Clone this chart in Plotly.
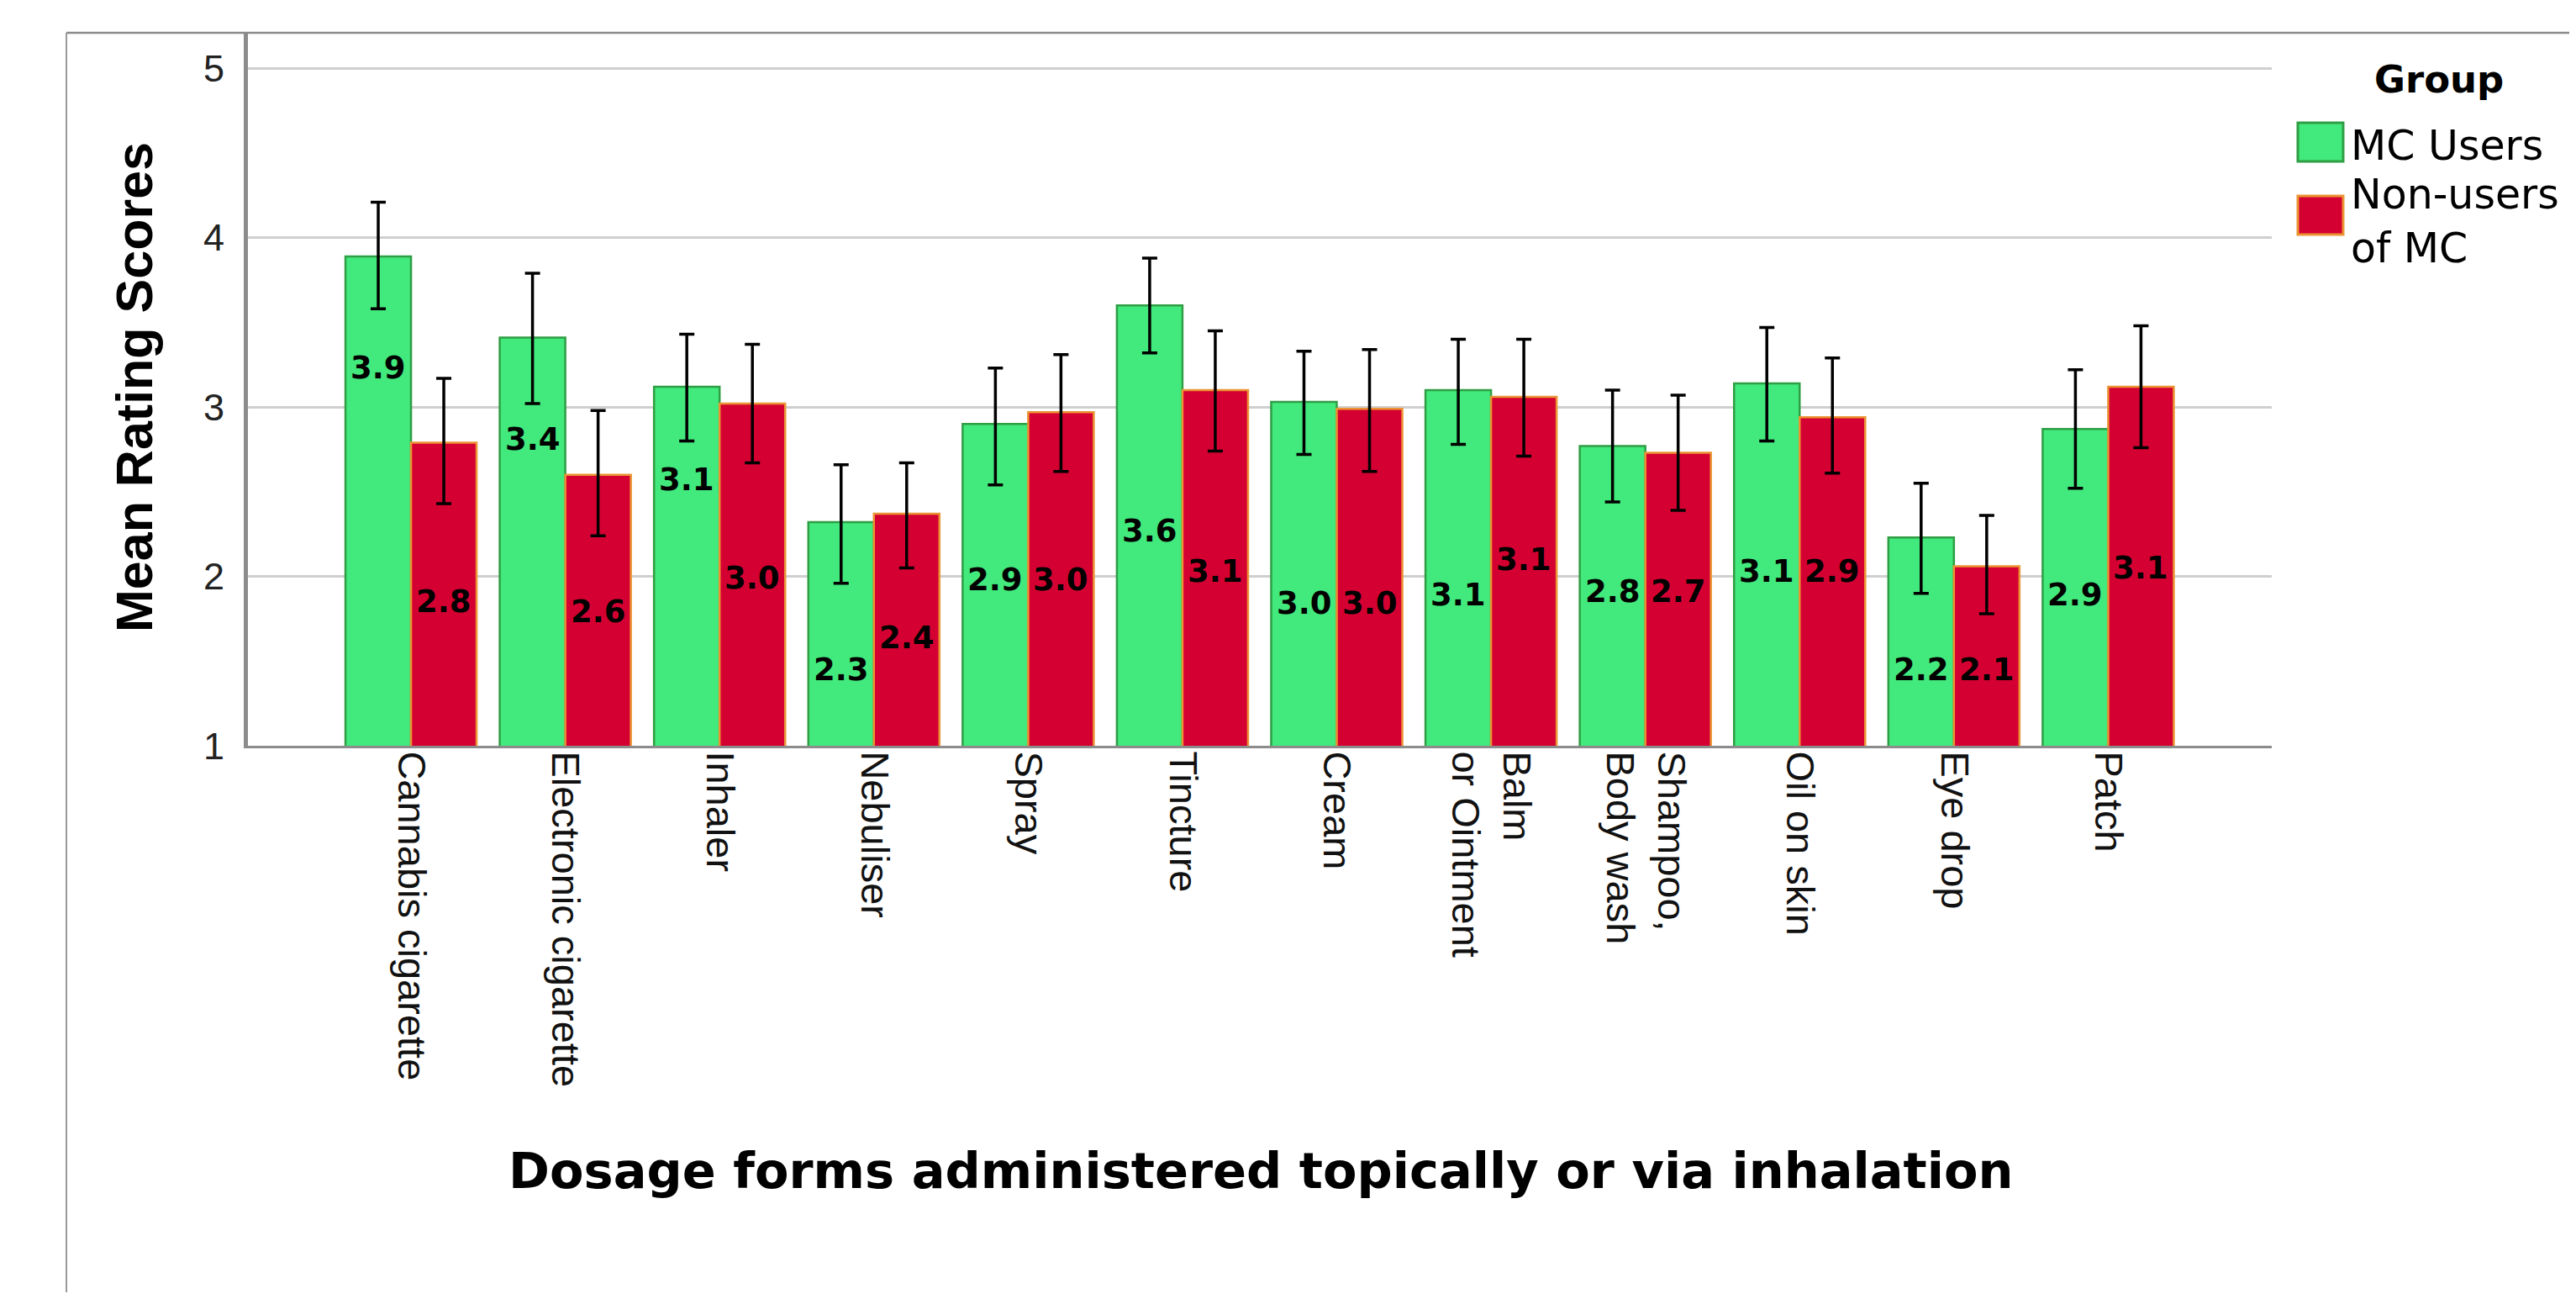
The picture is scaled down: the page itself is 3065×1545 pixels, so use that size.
import plotly.graph_objects as go

categories = ["Cannabis cigarette", "Electronic cigarette", "Inhaler", "Nebuliser", "Spray",
              "Tincture", "Cream", "Balm<br>or Ointment", "Shampoo,<br>Body wash", "Oil on skin",
              "Eye drop", "Patch"]
series_names = ["MC Users", "Non-users<br>of MC"]

mc_mean = [3.89, 3.41, 3.12, 2.32, 2.90, 3.60, 3.03, 3.10, 2.77, 3.14, 2.23, 2.87]
mc_upper = [4.21, 3.79, 3.43, 2.66, 3.23, 3.88, 3.33, 3.40, 3.10, 3.47, 2.55, 3.22]
mc_lower = [3.58, 3.02, 2.80, 1.96, 2.54, 3.32, 2.72, 2.78, 2.44, 2.80, 1.90, 2.52]

non_mean = [2.79, 2.60, 3.02, 2.37, 2.97, 3.10, 2.99, 3.06, 2.73, 2.94, 2.06, 3.12]
non_upper = [3.17, 2.98, 3.37, 2.67, 3.31, 3.45, 3.34, 3.40, 3.07, 3.29, 2.36, 3.48]
non_lower = [2.43, 2.24, 2.67, 2.05, 2.62, 2.74, 2.62, 2.71, 2.39, 2.61, 1.78, 2.76]

# vertical placement of the value labels inside the bars (data units)
mc_label_y = [3.23, 2.81, 2.57, 1.45, 1.98, 2.27, 1.84, 1.89, 1.91, 2.03, 1.45, 1.89]
non_label_y = [1.85, 1.79, 1.99, 1.64, 1.98, 2.03, 1.84, 2.10, 1.91, 2.03, 1.45, 2.05]

y_ticks = [1, 2, 3, 4, 5]

GREEN = "#42E97C"
GREEN_LINE = "#2F9E44"
RED = "#D50032"
RED_LINE = "#EB9433"
FONT = "Arial, Liberation Sans, sans-serif"
WIDE = "DejaVu Sans, Verdana, sans-serif"

# page body has an 8px margin: work in window pixels, convert to figure pixels
OFF = 8
W, H = 3065 - 2 * OFF, 1545 - 2 * OFF
L, R, T, B = 295 - OFF, 2703 - OFF, 39 - OFF, 887 - OFF
pw, ph = R - L, B - T


def px(x):
    return (x - OFF - L) / pw


def py(y):
    return (B - (y - OFF)) / ph


fig = go.Figure()
fig.add_trace(go.Bar(
    x=categories, y=mc_mean, name="MC Users", showlegend=False,
    marker=dict(color=GREEN, line=dict(color=GREEN_LINE, width=2.5)),
    error_y=dict(type="data", symmetric=False,
                 array=[u - v for u, v in zip(mc_upper, mc_mean)],
                 arrayminus=[v - l for v, l in zip(mc_mean, mc_lower)],
                 color="black", thickness=3.5, width=9),
))
fig.add_trace(go.Bar(
    x=categories, y=non_mean, name="Non-users of MC", showlegend=False,
    marker=dict(color=RED, line=dict(color=RED_LINE, width=2.5)),
    error_y=dict(type="data", symmetric=False,
                 array=[u - v for u, v in zip(non_upper, non_mean)],
                 arrayminus=[v - l for v, l in zip(non_mean, non_lower)],
                 color="black", thickness=3.5, width=9),
))

annotations = []
for cat, v, ly in zip(categories, mc_mean, mc_label_y):
    annotations.append(dict(x=cat, y=ly, xref="x", yref="y", text=f"{v:.1f}", showarrow=False,
                            xshift=-39, font=dict(family=WIDE, size=37, color="black", weight="bold")))
for cat, v, ly in zip(categories, non_mean, non_label_y):
    annotations.append(dict(x=cat, y=ly, xref="x", yref="y", text=f"{v:.1f}", showarrow=False,
                            xshift=39, font=dict(family=WIDE, size=37, color="black", weight="bold")))

# axis titles
annotations.append(dict(x=px(1500), y=py(1392), xref="paper", yref="paper", showarrow=False,
                        text="Dosage forms administered topically or via inhalation",
                        xanchor="center", yanchor="middle",
                        font=dict(family=WIDE, size=59, color="black", weight="bold")))
annotations.append(dict(x=px(160), y=py(461), xref="paper", yref="paper", showarrow=False,
                        text="Mean Rating Scores", textangle=-90,
                        xanchor="center", yanchor="middle",
                        font=dict(family=FONT, size=61, color="black", weight="bold")))

# manual legend
annotations.append(dict(x=px(2902), y=py(94), xref="paper", yref="paper", showarrow=False,
                        text="Group", xanchor="center", yanchor="middle",
                        font=dict(family=WIDE, size=45, color="black", weight="bold")))
annotations.append(dict(x=px(2795), y=py(173), xref="paper", yref="paper", showarrow=False,
                        text=series_names[0], xanchor="left", yanchor="middle", align="left",
                        font=dict(family=WIDE, size=49, color="black")))
annotations.append(dict(x=px(2795), y=py(263), xref="paper", yref="paper", showarrow=False,
                        text=series_names[1], xanchor="left", yanchor="middle", align="left",
                        font=dict(family=WIDE, size=49, color="black")))

shapes = [
    dict(type="rect", xref="paper", yref="paper", x0=px(2734), x1=px(2788), y0=py(146), y1=py(192),
         fillcolor=GREEN, line=dict(color=GREEN_LINE, width=3)),
    dict(type="rect", xref="paper", yref="paper", x0=px(2734), x1=px(2788), y0=py(233), y1=py(279),
         fillcolor=RED, line=dict(color=RED_LINE, width=3)),
    # outer frame
    dict(type="line", xref="paper", yref="paper", x0=px(79), x1=px(79), y0=py(39), y1=py(1545),
         line=dict(color="#9A9A9A", width=2)),
    dict(type="line", xref="paper", yref="paper", x0=px(79), x1=px(3065), y0=py(39), y1=py(39),
         line=dict(color="#8A8A8A", width=2.5)),
]

fig.update_layout(
    width=W, height=H,
    margin=dict(l=L, r=W - R, t=T, b=H - B, pad=0),
    paper_bgcolor="white", plot_bgcolor="white",
    barmode="group", bargap=0.15, bargroupgap=0,
    annotations=annotations, shapes=shapes,
    font=dict(family=FONT, color="black"),
)
fig.update_xaxes(
    range=[-1.057, 12.06], tickangle=90, showgrid=False,
    showline=True, linecolor="#8C8C8C", linewidth=3, ticks="",
    tickfont=dict(family=FONT, size=47, color="#111111"), ticklabelstandoff=-6,
)
fig.update_yaxes(
    range=[1, 5.21], tickvals=y_ticks, ticktext=[str(t) for t in y_ticks],
    showgrid=True, gridcolor="#CFCFCF", gridwidth=3,
    showline=True, linecolor="#8C8C8C", linewidth=5, ticks="", zeroline=False,
    tickfont=dict(family=FONT, size=45, color="#222222"), ticklabelstandoff=14,
)

fig.write_html("out.html")
